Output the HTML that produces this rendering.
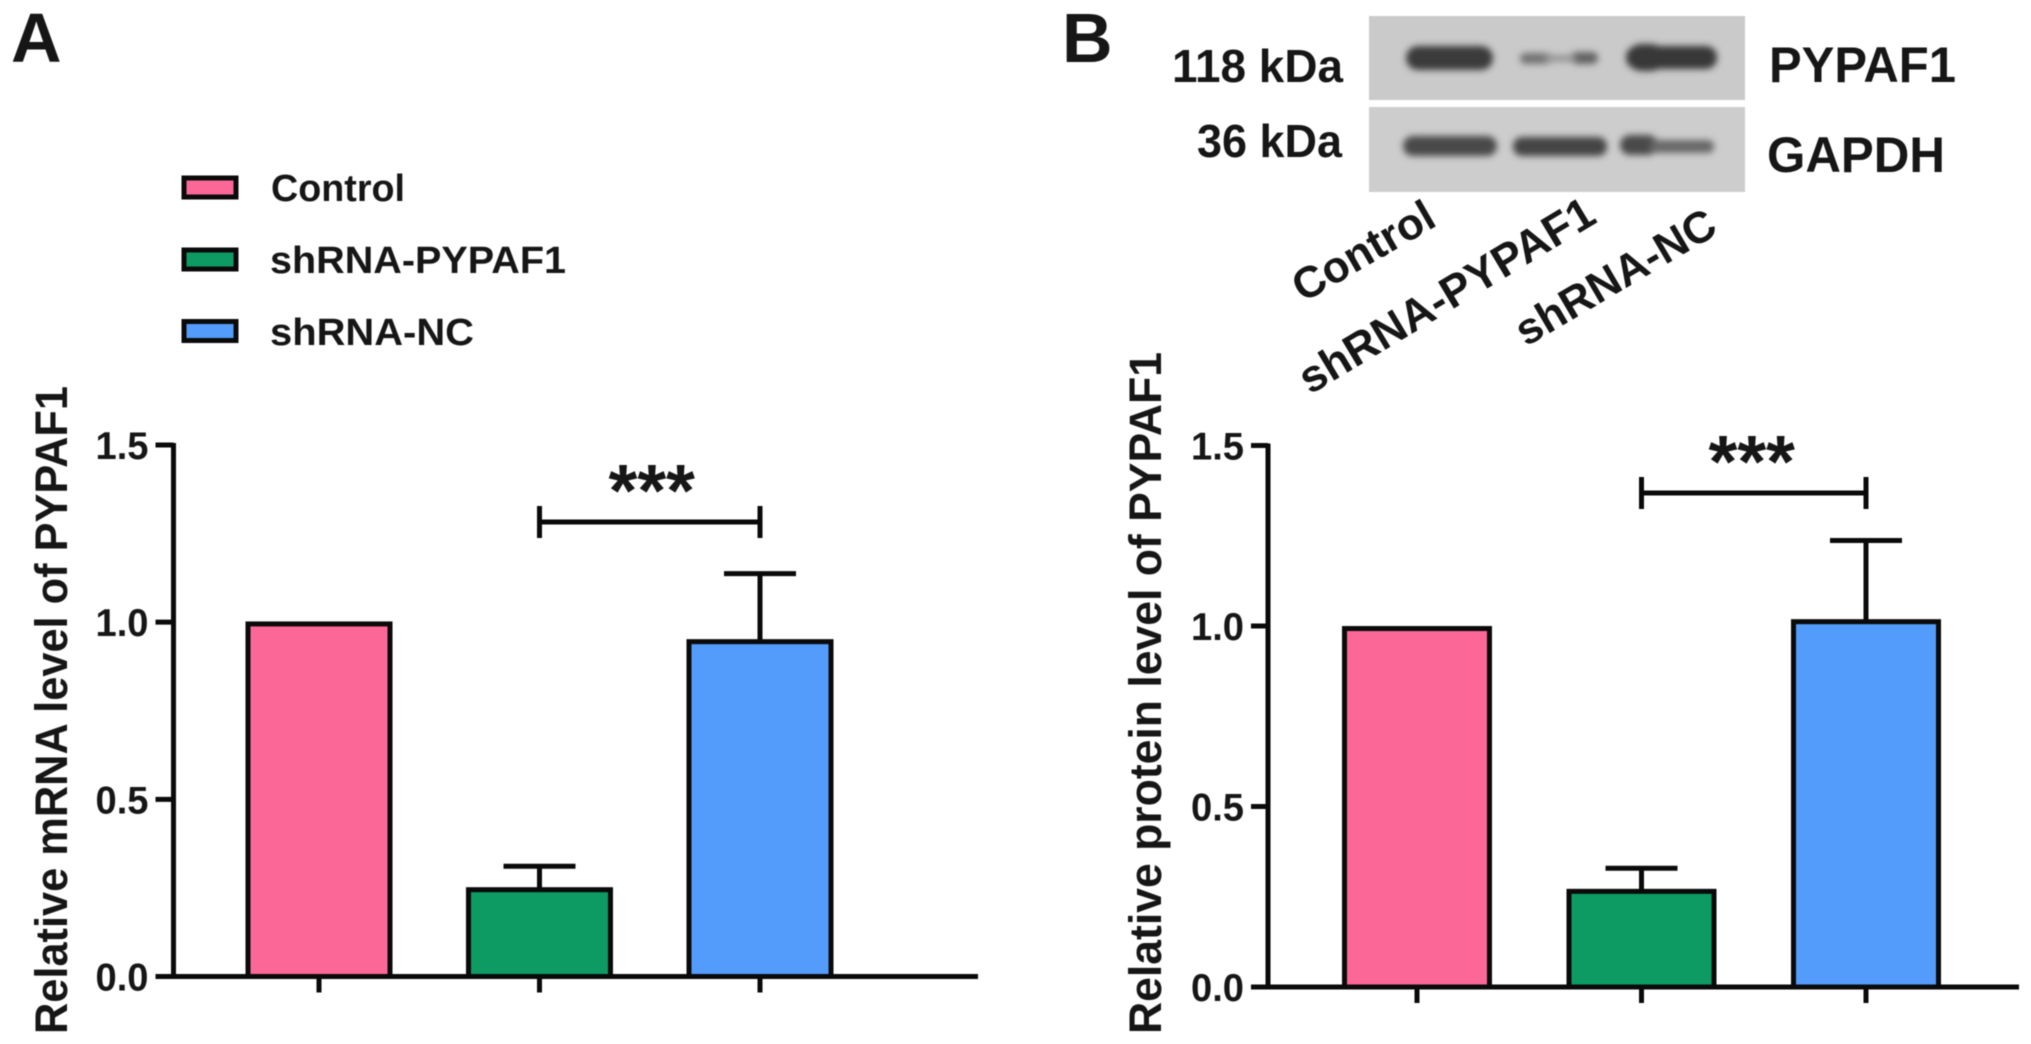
<!DOCTYPE html>
<html lang="en">
<head>
<meta charset="utf-8">
<title>PYPAF1 mRNA and protein levels</title>
<style>
html,body{margin:0;padding:0;background:#fff;}
body{width:2031px;height:1044px;overflow:hidden;}
svg{display:block;filter:blur(0.6px);}
text{font-family:"Liberation Sans",Arial,sans-serif;font-weight:bold;fill:#161616;}
</style>
</head>
<body>
<svg id="figure" xmlns="http://www.w3.org/2000/svg" width="2031" height="1044" viewBox="0 0 2031 1044">
  <defs>
    <filter id="band-blur" x="-20%" y="-60%" width="140%" height="220%"><feGaussianBlur stdDeviation="3.5"/></filter>
  </defs>
  <rect x="0" y="0" width="2031" height="1044" fill="#ffffff"/>

  <text x="11" y="62" font-size="70">A</text>
  <text x="1062" y="62" font-size="70">B</text>

  <g>
    <g>
      <rect x="184" y="178" width="52" height="19" fill="#fb6797" stroke="#0a0a0a" stroke-width="5"/>
      <text x="271" y="201" font-size="38" textLength="134" lengthAdjust="spacingAndGlyphs">Control</text>
    </g>
    <g>
      <rect x="184" y="250" width="52" height="19" fill="#0d9b63" stroke="#0a0a0a" stroke-width="5"/>
      <text x="270" y="273" font-size="38" textLength="296" lengthAdjust="spacingAndGlyphs">shRNA-PYPAF1</text>
    </g>
    <g>
      <rect x="184" y="321.5" width="52" height="19" fill="#539cfb" stroke="#0a0a0a" stroke-width="5"/>
      <text x="270" y="345" font-size="38" textLength="204" lengthAdjust="spacingAndGlyphs">shRNA-NC</text>
    </g>
  </g>

  <g>
    <rect x="1369" y="16" width="376" height="84" fill="#cacaca"/>
    <rect x="1369" y="107" width="376" height="85" fill="#cdcdcd"/>
    <g filter="url(#band-blur)">
      <rect x="1406" y="46" width="87" height="24" rx="12" fill="#3a3a3a"/>
      <rect x="1520" y="53" width="32" height="11" rx="5" fill="#727272"/>
      <rect x="1570" y="52" width="28" height="12" rx="6" fill="#626262"/>
      <rect x="1545" y="55" width="30" height="7" fill="#959595"/>
      <rect x="1626" y="46" width="91" height="23" rx="11" fill="#383838"/>
      <rect x="1628" y="44" width="36" height="27" rx="13" fill="#383838"/>
    </g>
    <g filter="url(#band-blur)">
      <rect x="1403" y="136" width="94" height="20" rx="10" fill="#4a4a4a"/>
      <rect x="1513" y="137" width="94" height="19" rx="9" fill="#454545"/>
      <rect x="1620" y="135" width="38" height="20" rx="10" fill="#4a4a4a"/>
      <rect x="1650" y="140" width="64" height="13" rx="6" fill="#686868"/>
    </g>
    <text x="1343" y="82" text-anchor="end" font-size="46" textLength="171" lengthAdjust="spacingAndGlyphs">118 kDa</text>
    <text x="1342" y="157" text-anchor="end" font-size="46" textLength="145" lengthAdjust="spacingAndGlyphs">36 kDa</text>
    <text x="1769" y="82" font-size="50" textLength="187" lengthAdjust="spacingAndGlyphs">PYPAF1</text>
    <text x="1767" y="172" font-size="50" textLength="178" lengthAdjust="spacingAndGlyphs">GAPDH</text>
    <text transform="translate(1303 303) rotate(-30)" font-size="44">Control</text>
    <text transform="translate(1310 395) rotate(-31)" font-size="45">shRNA-PYPAF1</text>
    <text transform="translate(1526 347) rotate(-30.5)" font-size="44">shRNA-NC</text>
  </g>

  <g id="panel-a"></g>
  <g id="panel-b"></g>
</svg>

<script>
const categories = ['Control', 'shRNA-PYPAF1', 'shRNA-NC'];
const tickLabels = ['0.0', '0.5', '1.0', '1.5'];
const tickValues = [0, 0.5, 1.0, 1.5];
const mrnaValues = [0.995, 0.245, 0.945];
const mrnaErrors = [0, 0.066, 0.192];
const proteinValues = [0.993, 0.265, 1.012];
const proteinErrors = [0, 0.064, 0.225];

const barColors = ['#fb6797', '#0d9b63', '#539cfb'];
const SVG_NS = 'http://www.w3.org/2000/svg';
const INK = '#0a0a0a';
const STROKE = 5;

function makeAxisY(y0, y15) {
  return function (v) { return y0 + (y15 - y0) * v / 1.5; };
}
function makeAxisX(first, step) {
  return function (i) { return first + step * i; };
}
function create(parent, tag, attrs) {
  const node = document.createElementNS(SVG_NS, tag);
  for (const key in attrs) node.setAttribute(key, attrs[key]);
  parent.appendChild(node);
  return node;
}
function slug(s) { return s.toLowerCase().replace(/[^a-z0-9]+/g, '-'); }

function drawPanel(root, values, errors, title, layout) {
  const x = makeAxisX(layout.firstX, layout.stepX);
  const y = makeAxisY(layout.y0, layout.y15);
  const half = layout.barWidth / 2;

  values.forEach(function (v, i) {
    const errTop = y(v + errors[i]);
    if (errors[i] > 0) {
      const stem = create(root, 'line', {x1: x(i), x2: x(i), y1: y(v), y2: errTop, stroke: INK, 'stroke-width': STROKE});
      
      
      const cap = create(root, 'line', {x1: x(i) - layout.capHalf, x2: x(i) + layout.capHalf, y1: errTop, y2: errTop, stroke: INK, 'stroke-width': STROKE});
      
      
    }
    const bar = create(root, 'rect', {x: x(i) - half, y: y(v), width: layout.barWidth, height: y(0) - y(v), fill: barColors[i], stroke: INK, 'stroke-width': STROKE});
    
    
  });

  const yAxis = create(root, 'line', {x1: layout.axisX, x2: layout.axisX, y1: y(1.5) - 2, y2: y(0) + 2, stroke: INK, 'stroke-width': STROKE});
  
  

  const xAxis = create(root, 'line', {x1: layout.axisX - layout.tickLen, x2: layout.axisRight, y1: y(0), y2: y(0), stroke: INK, 'stroke-width': STROKE});
  
  

  tickValues.forEach(function (t, i) {
    const tick = create(root, 'line', {x1: layout.axisX - layout.tickLen, x2: layout.axisX, y1: y(t), y2: y(t), stroke: INK, 'stroke-width': STROKE});
    
    
    const label = create(root, 'text', {x: layout.axisX - layout.tickLen - 7, y: y(t) + 14, 'text-anchor': 'end', 'font-size': 39, textLength: 53, lengthAdjust: 'spacingAndGlyphs'});
    label.textContent = tickLabels[i];
    
    
  });

  categories.forEach(function (c, i) {
    const tick = create(root, 'line', {x1: x(i), x2: x(i), y1: y(0), y2: y(0) + 16, stroke: INK, 'stroke-width': STROKE});
    
    
  });

  const yTitle = create(root, 'text', {transform: 'translate(' + layout.titleX + ' ' + layout.titleBottom + ') rotate(-90)', 'font-size': 45, textLength: layout.titleLength, lengthAdjust: 'spacingAndGlyphs'});
  yTitle.textContent = title;
  
  

  const bracketLeft = x(1);
  const bracketRight = x(2);
  const by = layout.bracketY;
  const bracket = create(root, 'path', {d: 'M' + bracketLeft + ' ' + (by - 16) + 'V' + (by + 16) + 'M' + bracketLeft + ' ' + by + 'H' + bracketRight + 'M' + bracketRight + ' ' + (by - 16) + 'V' + (by + 16), fill: 'none', stroke: INK, 'stroke-width': STROKE});
  
  

  const stars = create(root, 'text', {x: (bracketLeft + bracketRight) / 2 + layout.starShift, y: by - 6, 'text-anchor': 'middle', 'font-size': 74});
  stars.textContent = '***';
  
  
}

drawPanel(document.getElementById('panel-a'), mrnaValues, mrnaErrors, 'Relative mRNA level of PYPAF1', {
  axisX: 173.5, axisRight: 978, tickLen: 18, y0: 976.5, y15: 445, firstX: 319, stepX: 220.5,
  barWidth: 142, capHalf: 36, titleX: 67, titleBottom: 1034, titleLength: 648, bracketY: 522, starShift: 2
});

drawPanel(document.getElementById('panel-b'), proteinValues, proteinErrors, 'Relative protein level of PYPAF1', {
  axisX: 1268, axisRight: 2019, tickLen: 17, y0: 987, y15: 445.5, firstX: 1417, stepX: 224.5,
  barWidth: 145, capHalf: 36, titleX: 1161, titleBottom: 1034, titleLength: 682, bracketY: 493, starShift: -2
});
</script>
</body>
</html>
